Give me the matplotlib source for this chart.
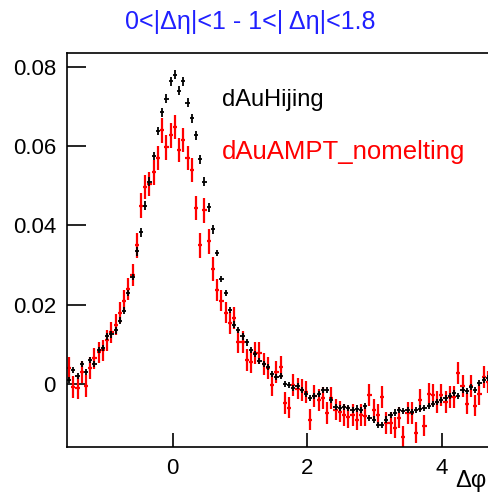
import numpy as np
import matplotlib
matplotlib.use('Agg')
import matplotlib.pyplot as plt

plt.rcParams['font.family'] = ['Liberation Sans', 'DejaVu Sans']

# 100 bins from -pi/2 to 3pi/2
n_bins = 100
edges = np.linspace(-np.pi / 2, 3 * np.pi / 2, n_bins + 1)

hijing = [
    0.0010, 0.0035, 0.0020, 0.0050, 0.0030, 0.0060, 0.0050, 0.0085, 0.0090, 0.0120,
    0.0125, 0.0135, 0.0160, 0.0185, 0.0230, 0.0270, 0.0335, 0.0383, 0.0450, 0.0510,
    0.0575, 0.0638, 0.0685, 0.0720, 0.0764, 0.0780, 0.0740, 0.0764, 0.0710, 0.0670,
    0.0627, 0.0567, 0.0510, 0.0446, 0.0390, 0.0330, 0.0265, 0.0230, 0.0186, 0.0150,
    0.0136, 0.0120, 0.0105, 0.0085, 0.0075, 0.0058, 0.0050, 0.0043, 0.0025, 0.0018,
    0.0020, 0.0000, -0.0003, -0.0010, -0.0005, -0.0015, -0.0025, -0.0035, -0.0030, -0.0025,
    -0.0015, -0.0015, -0.0040, -0.0058, -0.0060, -0.0058, -0.0060, -0.0066, -0.0062, -0.0066,
    -0.0055, -0.0086, -0.0090, -0.0103, -0.0103, -0.0090, -0.0078, -0.0072, -0.0066, -0.0068,
    -0.0066, -0.0070, -0.0066, -0.0062, -0.0060, -0.0055, -0.0050, -0.0045, -0.0040, -0.0035,
    -0.0030, -0.0023, -0.0030, -0.0015, -0.0018, -0.0008, -0.0015, 0.0003, 0.0010, 0.0015,
]
hijing_err = [0.0008] * 16 + [0.0011] * 19 + [0.0008] * 65

ampt = [
    0.0040, -0.0008, -0.0010, 0.0030, -0.0005, 0.0040, 0.0065, 0.0080, 0.0085, 0.0110,
    0.0130, 0.0150, 0.0180, 0.0210, 0.0240, 0.0275, 0.0350, 0.0450, 0.0497, 0.0505,
    0.0534, 0.0570, 0.0640, 0.0597, 0.0627, 0.0648, 0.0590, 0.0615, 0.0570, 0.0540,
    0.0444, 0.0350, 0.0438, 0.0360, 0.0290, 0.0237, 0.0210, 0.0180, 0.0154, 0.0166,
    0.0106, 0.0106, 0.0060, 0.0055, 0.0078, 0.0078, 0.0050, 0.0040, -0.0003, 0.0030,
    0.0043, -0.0048, -0.0060, -0.0003, -0.0012, -0.0015, -0.0020, -0.0090, -0.0030, -0.0040,
    -0.0035, -0.0073, -0.0035, -0.0065, -0.0070, -0.0078, -0.0083, -0.0078, -0.0090, -0.0078,
    -0.0080, -0.0028, -0.0065, -0.0078, -0.0033, -0.0098, -0.0098, -0.0110, -0.0085, -0.0134,
    -0.0073, -0.0073, -0.0123, -0.0040, -0.0105, -0.0025, -0.0028, -0.0045, -0.0028, -0.0045,
    -0.0033, -0.0033, 0.0028, -0.0005, -0.0050, -0.0005, -0.0055, -0.0025, 0.0018, 0.0005,
]
ampt_err = [0.0027] * 16 + [0.0031] * 19 + [0.0027] * 65

title = '0<|\u0394\u03b7|<1 - 1<| \u0394\u03b7|<1.8'
labels = ['dAuHijing', 'dAuAMPT_nomelting']

centers = 0.5 * (edges[:-1] + edges[1:])
half_w = 0.5 * (edges[1] - edges[0])

fig = plt.figure(figsize=(4.88, 4.92), dpi=100)
ax = fig.add_axes([67 / 488, 45 / 492, 423 / 488, 394 / 492])

ax.errorbar(centers, ampt, yerr=ampt_err, xerr=half_w, fmt='none',
            ecolor='#ff0000', elinewidth=1.6, capsize=0)
ax.errorbar(centers, hijing, yerr=hijing_err, xerr=half_w, fmt='none',
            ecolor='black', elinewidth=1.3, capsize=0)

ax.set_xlim(-np.pi / 2, 3 * np.pi / 2)
ax.set_ylim(-0.0159, 0.0835)
ax.set_xticks([0, 2, 4])
ax.set_xticklabels(['0', '2', '4'])
ax.set_yticks([0, 0.02, 0.04, 0.06, 0.08])
ax.set_yticklabels(['0', '0.02', '0.04', '0.06', '0.08'])
ax.tick_params(axis='y', direction='in', length=14, width=1.2, labelsize=16, pad=8)
ax.tick_params(axis='x', direction='in', length=10, width=1.2, labelsize=16, pad=8)
for s in ax.spines.values():
    s.set_linewidth(1.2)

# x axis title, right aligned at the figure edge like ROOT
fig.text(487 / 488, 1 - 481 / 492, '\u0394\u03c6', fontsize=17,
         ha='right', va='center')

fig.text(250 / 488, 1 - 22 / 492, title, color='#2020ff', fontsize=18,
         ha='center', va='center')
fig.text(222 / 488, 1 - 100 / 492, labels[0], color='black', fontsize=17,
         ha='left', va='center')
fig.text(222 / 488, 1 - 152 / 492, labels[1], color='#ff0000', fontsize=18.5,
         ha='left', va='center')

fig.savefig('out.png', dpi=100)
